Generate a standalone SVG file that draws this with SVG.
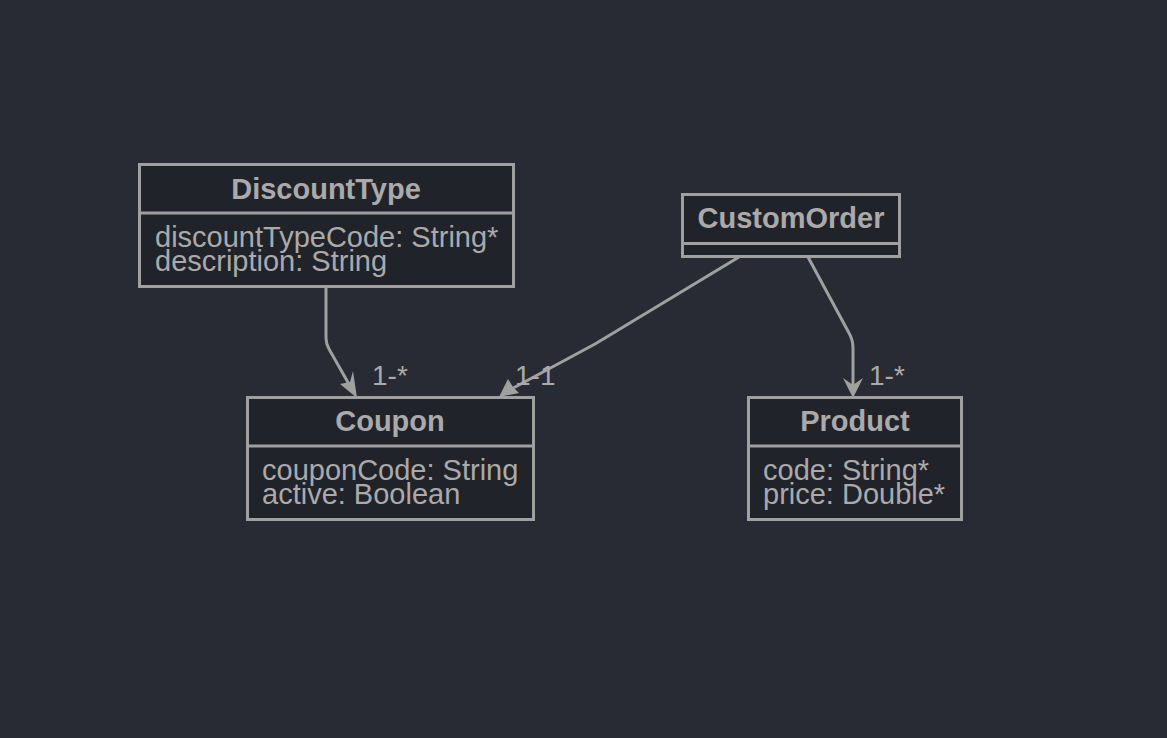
<svg xmlns="http://www.w3.org/2000/svg" width="1167" height="738" viewBox="0 0 1167 738">
<defs>
<style>
.box{fill:#21232a;stroke:#a0a0a0;stroke-width:3}
.div{stroke:#a0a0a0;stroke-width:3}
.title{font-family:"Liberation Sans",Arial,sans-serif;font-size:29px;font-weight:bold;fill:#aaaaaa;text-anchor:middle}
.attr{font-family:"Liberation Sans",Arial,sans-serif;font-size:29px;fill:#aaaaaa}
.lbl{font-family:"Liberation Sans",Arial,sans-serif;font-size:28px;fill:#aaaaaa}
.edge{fill:none;stroke:#a0a0a0;stroke-width:3}
.head{fill:#a0a0a0}
</style>
</defs>
<rect width="1167" height="738" fill="#282b33"/>
<g id="edges">
<path class="edge" d="M326,287 L326,338 Q326,344 329,349 L354,393"/>
<path class="edge" d="M739,257 L605,338 Q600,341 595,344 L504,393"/>
<path class="edge" d="M808,257 L849,333 Q853,340 853,348 L853,393"/>
<polygon class="head" points="357,398 340,384 350,382 353,371"/>
<polygon class="head" points="499,397 519,393 513,387 508,379"/>
<polygon class="head" points="853,398 843,378 853,385 863,378"/>
<text class="lbl" x="372" y="385">1-*</text>
<text class="lbl" x="515" y="385">1-1</text>
<text class="lbl" x="869" y="385">1-*</text>
</g>
<g id="DiscountType">
<rect class="box" x="139.5" y="164.5" width="374" height="122"/>
<line class="div" x1="139.5" y1="213" x2="513.5" y2="213"/>
<text class="title" x="326" y="199">DiscountType</text>
<text class="attr" x="155" y="247">discountTypeCode: String*</text>
<text class="attr" x="155" y="271">description: String</text>
</g>
<g id="CustomOrder">
<rect class="box" x="682.5" y="194.5" width="217" height="62"/>
<line class="div" x1="682.5" y1="243.5" x2="899.5" y2="243.5"/>
<text class="title" x="791" y="228">CustomOrder</text>
</g>
<g id="Coupon">
<rect class="box" x="247.5" y="397.5" width="286" height="122"/>
<line class="div" x1="247.5" y1="446" x2="533.5" y2="446"/>
<text class="title" x="390" y="431">Coupon</text>
<text class="attr" x="262" y="480">couponCode: String</text>
<text class="attr" x="262" y="504">active: Boolean</text>
</g>
<g id="Product">
<rect class="box" x="748.5" y="397.5" width="213" height="122"/>
<line class="div" x1="748.5" y1="446" x2="961.5" y2="446"/>
<text class="title" x="855" y="431">Product</text>
<text class="attr" x="763" y="480">code: String*</text>
<text class="attr" x="763" y="504">price: Double*</text>
</g>
</svg>
